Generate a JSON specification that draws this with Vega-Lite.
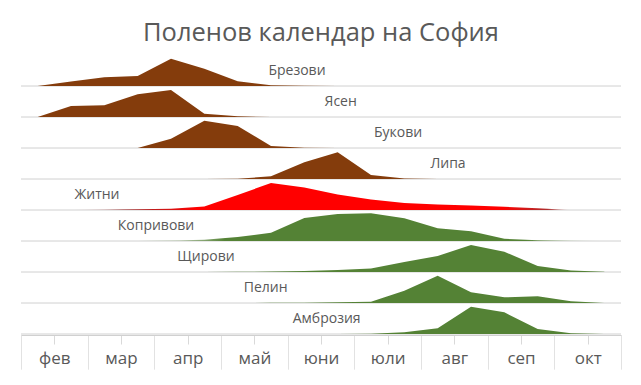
{
  "$schema": "https://vega.github.io/schema/vega-lite/v6.json",
  "background": "white",
  "padding": {"left": 20, "right": 20, "top": 20, "bottom": 0},
  "title": {"text": "Поленов календар на София", "font": "Open Sans", "fontSize": 25.5, "fontWeight": "normal", "color": "#595959", "offset": 10, "anchor": "middle"},
  "data": {"values": [
    {"s":"Брезови","t":0.5,"v":0},{"s":"Брезови","t":1.5,"v":4.5},{"s":"Брезови","t":2.5,"v":8.7},{"s":"Брезови","t":3.5,"v":10},{"s":"Брезови","t":4.5,"v":27.3},{"s":"Брезови","t":5.5,"v":17.3},{"s":"Брезови","t":6.5,"v":4.7},{"s":"Брезови","t":7.5,"v":0.7},{"s":"Брезови","t":8.5,"v":0.2},{"s":"Брезови","t":9.5,"v":0},{"s":"Брезови","t":10.5,"v":0},{"s":"Брезови","t":11.5,"v":0},{"s":"Брезови","t":12.5,"v":0},{"s":"Брезови","t":13.5,"v":0},{"s":"Брезови","t":14.5,"v":0},{"s":"Брезови","t":15.5,"v":0},{"s":"Брезови","t":16.5,"v":0},{"s":"Брезови","t":17.5,"v":0},
    {"s":"Ясен","t":0.5,"v":0},{"s":"Ясен","t":1.5,"v":11},{"s":"Ясен","t":2.5,"v":11.7},{"s":"Ясен","t":3.5,"v":22.7},{"s":"Ясен","t":4.5,"v":27},{"s":"Ясен","t":5.5,"v":3.3},{"s":"Ясен","t":6.5,"v":0.7},{"s":"Ясен","t":7.5,"v":0},{"s":"Ясен","t":8.5,"v":0},{"s":"Ясен","t":9.5,"v":0},{"s":"Ясен","t":10.5,"v":0},{"s":"Ясен","t":11.5,"v":0},{"s":"Ясен","t":12.5,"v":0},{"s":"Ясен","t":13.5,"v":0},{"s":"Ясен","t":14.5,"v":0},{"s":"Ясен","t":15.5,"v":0},{"s":"Ясен","t":16.5,"v":0},{"s":"Ясен","t":17.5,"v":0},
    {"s":"Букови","t":0.5,"v":0},{"s":"Букови","t":1.5,"v":0},{"s":"Букови","t":2.5,"v":0},{"s":"Букови","t":3.5,"v":0},{"s":"Букови","t":4.5,"v":9.3},{"s":"Букови","t":5.5,"v":27.3},{"s":"Букови","t":6.5,"v":22},{"s":"Букови","t":7.5,"v":2},{"s":"Букови","t":8.5,"v":0.3},{"s":"Букови","t":9.5,"v":0},{"s":"Букови","t":10.5,"v":0},{"s":"Букови","t":11.5,"v":0},{"s":"Букови","t":12.5,"v":0},{"s":"Букови","t":13.5,"v":0},{"s":"Букови","t":14.5,"v":0},{"s":"Букови","t":15.5,"v":0},{"s":"Букови","t":16.5,"v":0},{"s":"Букови","t":17.5,"v":0},
    {"s":"Липа","t":0.5,"v":0},{"s":"Липа","t":1.5,"v":0},{"s":"Липа","t":2.5,"v":0},{"s":"Липа","t":3.5,"v":0},{"s":"Липа","t":4.5,"v":0},{"s":"Липа","t":5.5,"v":0},{"s":"Липа","t":6.5,"v":0.3},{"s":"Липа","t":7.5,"v":2.7},{"s":"Липа","t":8.5,"v":16.7},{"s":"Липа","t":9.5,"v":26.7},{"s":"Липа","t":10.5,"v":4},{"s":"Липа","t":11.5,"v":0.5},{"s":"Липа","t":12.5,"v":0.1},{"s":"Липа","t":13.5,"v":0},{"s":"Липа","t":14.5,"v":0},{"s":"Липа","t":15.5,"v":0},{"s":"Липа","t":16.5,"v":0},{"s":"Липа","t":17.5,"v":0},
    {"s":"Житни","t":0.5,"v":0},{"s":"Житни","t":1.5,"v":0},{"s":"Житни","t":2.5,"v":0.3},{"s":"Житни","t":3.5,"v":0.8},{"s":"Житни","t":4.5,"v":1.3},{"s":"Житни","t":5.5,"v":3.5},{"s":"Житни","t":6.5,"v":15},{"s":"Житни","t":7.5,"v":27},{"s":"Житни","t":8.5,"v":22.5},{"s":"Житни","t":9.5,"v":15.5},{"s":"Житни","t":10.5,"v":10.5},{"s":"Житни","t":11.5,"v":7},{"s":"Житни","t":12.5,"v":5.5},{"s":"Житни","t":13.5,"v":4.5},{"s":"Житни","t":14.5,"v":3.3},{"s":"Житни","t":15.5,"v":1.7},{"s":"Житни","t":16.5,"v":0},{"s":"Житни","t":17.5,"v":0},
    {"s":"Копривови","t":0.5,"v":0},{"s":"Копривови","t":1.5,"v":0},{"s":"Копривови","t":2.5,"v":0},{"s":"Копривови","t":3.5,"v":0},{"s":"Копривови","t":4.5,"v":0.5},{"s":"Копривови","t":5.5,"v":1.3},{"s":"Копривови","t":6.5,"v":4},{"s":"Копривови","t":7.5,"v":8.3},{"s":"Копривови","t":8.5,"v":23},{"s":"Копривови","t":9.5,"v":27},{"s":"Копривови","t":10.5,"v":27.7},{"s":"Копривови","t":11.5,"v":22.7},{"s":"Копривови","t":12.5,"v":12.7},{"s":"Копривови","t":13.5,"v":9.7},{"s":"Копривови","t":14.5,"v":2.3},{"s":"Копривови","t":15.5,"v":0.7},{"s":"Копривови","t":16.5,"v":0.3},{"s":"Копривови","t":17.5,"v":0.1},
    {"s":"Щирови","t":0.5,"v":0},{"s":"Щирови","t":1.5,"v":0},{"s":"Щирови","t":2.5,"v":0},{"s":"Щирови","t":3.5,"v":0},{"s":"Щирови","t":4.5,"v":0},{"s":"Щирови","t":5.5,"v":0},{"s":"Щирови","t":6.5,"v":0.2},{"s":"Щирови","t":7.5,"v":0.5},{"s":"Щирови","t":8.5,"v":1},{"s":"Щирови","t":9.5,"v":2},{"s":"Щирови","t":10.5,"v":3.5},{"s":"Щирови","t":11.5,"v":10},{"s":"Щирови","t":12.5,"v":16},{"s":"Щирови","t":13.5,"v":27},{"s":"Щирови","t":14.5,"v":20.3},{"s":"Щирови","t":15.5,"v":6},{"s":"Щирови","t":16.5,"v":1.5},{"s":"Щирови","t":17.5,"v":0.3},
    {"s":"Пелин","t":0.5,"v":0},{"s":"Пелин","t":1.5,"v":0},{"s":"Пелин","t":2.5,"v":0},{"s":"Пелин","t":3.5,"v":0},{"s":"Пелин","t":4.5,"v":0},{"s":"Пелин","t":5.5,"v":0},{"s":"Пелин","t":6.5,"v":0},{"s":"Пелин","t":7.5,"v":0.2},{"s":"Пелин","t":8.5,"v":0.3},{"s":"Пелин","t":9.5,"v":0.7},{"s":"Пелин","t":10.5,"v":1.3},{"s":"Пелин","t":11.5,"v":12.3},{"s":"Пелин","t":12.5,"v":27.3},{"s":"Пелин","t":13.5,"v":10.7},{"s":"Пелин","t":14.5,"v":5.7},{"s":"Пелин","t":15.5,"v":6.7},{"s":"Пелин","t":16.5,"v":1.7},{"s":"Пелин","t":17.5,"v":0},
    {"s":"Амброзия","t":0.5,"v":0},{"s":"Амброзия","t":1.5,"v":0},{"s":"Амброзия","t":2.5,"v":0},{"s":"Амброзия","t":3.5,"v":0},{"s":"Амброзия","t":4.5,"v":0},{"s":"Амброзия","t":5.5,"v":0},{"s":"Амброзия","t":6.5,"v":0},{"s":"Амброзия","t":7.5,"v":0},{"s":"Амброзия","t":8.5,"v":0},{"s":"Амброзия","t":9.5,"v":0},{"s":"Амброзия","t":10.5,"v":0.3},{"s":"Амброзия","t":11.5,"v":1.7},{"s":"Амброзия","t":12.5,"v":5.7},{"s":"Амброзия","t":13.5,"v":27.3},{"s":"Амброзия","t":14.5,"v":21.7},{"s":"Амброзия","t":15.5,"v":5},{"s":"Амброзия","t":16.5,"v":0.7},{"s":"Амброзия","t":17.5,"v":0},
    {"s":"Брезови","label":"Брезови","t":8.28},
    {"s":"Ясен","label":"Ясен","t":9.59},
    {"s":"Букови","label":"Букови","t":11.31},
    {"s":"Липа","label":"Липа","t":12.81},
    {"s":"Житни","label":"Житни","t":2.28},
    {"s":"Копривови","label":"Копривови","t":4.05},
    {"s":"Щирови","label":"Щирови","t":5.55},
    {"s":"Пелин","label":"Пелин","t":7.34},
    {"s":"Амброзия","label":"Амброзия","t":9.17}
  ]},
  "facet": {"row": {"field": "s", "type": "nominal", "sort": ["Брезови","Ясен","Букови","Липа","Житни","Копривови","Щирови","Пелин","Амброзия"], "header": {"labels": false, "title": null, "labelPadding": 0, "titlePadding": 0}, "title": null}},
  "spacing": 0,
  "spec": {
    "width": 600,
    "height": 30,
    "encoding": {
      "x": {"field": "t", "type": "quantitative", "scale": {"domain": [0, 18], "nice": false, "zero": false},
        "axis": {"title": null, "values": [0,1,2,3,4,5,6,7,8,9,10,11,12,13,14,15,16,17,18], "grid": false,
          "domain": true, "domainColor": "#d0d0d0", "tickColor": "#d9d9d9", "tickSize": 34,
          "tickDash": {"condition": {"test": "datum.value % 2 == 1", "value": [9, 60]}, "value": [1, 0]},
          "labelExpr": "datum.value % 2 == 1 ? ['фев','мар','апр','май','юни','юли','авг','сеп','окт'][(datum.value - 1) / 2] : ''",
          "labelFont": "Open Sans", "labelFontSize": 17, "labelColor": "#595959", "labelPadding": -19,
          "labelOverlap": false, "labelBound": false, "labelFlush": false}}
    },
    "layer": [
      {
        "transform": [{"filter": "datum.label != null"}],
        "mark": {"type": "rule", "color": "#d0d0d0", "strokeWidth": 1},
        "encoding": {"x": null, "y": {"datum": 0, "type": "quantitative", "scale": {"domain": [0, 30]}, "axis": null}}
      },
      {
        "transform": [{"filter": "datum.v != null && datum.s != 'Житни' && datum.s != 'Копривови'"}],
        "mark": {"type": "area", "interpolate": "linear"},
        "encoding": {
          "y": {"field": "v", "type": "quantitative", "scale": {"domain": [0, 30]}, "axis": null},
          "color": {"field": "s", "type": "nominal", "legend": null,
            "scale": {"domain": ["Брезови","Ясен","Букови","Липа","Щирови","Пелин","Амброзия"],
              "range": ["#843c0c","#843c0c","#843c0c","#843c0c","#548235","#548235","#548235"]}}
        }
      },
      {
        "transform": [{"filter": "datum.v != null && datum.s == 'Житни'"}],
        "mark": {"type": "area", "interpolate": "linear",
          "color": {"gradient": "linear", "x1": 0, "y1": 0, "x2": 1, "y2": 0,
            "stops": [
              {"offset": 0.05, "color": "rgba(139,0,0,0)"},
              {"offset": 0.15, "color": "rgba(139,0,0,0.8)"},
              {"offset": 0.28, "color": "#ff0000"},
              {"offset": 0.82, "color": "#ff0000"},
              {"offset": 0.9, "color": "rgba(160,0,0,0.8)"},
              {"offset": 0.94, "color": "rgba(160,0,0,0)"}
            ]}},
        "encoding": {
          "y": {"field": "v", "type": "quantitative", "axis": null}
        }
      },
      {
        "transform": [{"filter": "datum.v != null && datum.s == 'Копривови'"}],
        "mark": {"type": "area", "interpolate": "linear",
          "color": {"gradient": "linear", "x1": 0, "y1": 0, "x2": 1, "y2": 0,
            "stops": [
              {"offset": 0.25, "color": "rgba(84,130,53,0.3)"},
              {"offset": 0.33, "color": "#548235"},
              {"offset": 0.86, "color": "#548235"},
              {"offset": 1, "color": "rgba(84,130,53,0)"}
            ]}},
        "encoding": {
          "y": {"field": "v", "type": "quantitative", "axis": null}
        }
      },
      {
        "transform": [{"filter": "datum.label != null"}],
        "mark": {"type": "text", "font": "Open Sans", "fontSize": 14, "color": "#595959", "baseline": "middle", "align": "center"},
        "encoding": {
          "y": {"datum": 15, "type": "quantitative", "axis": null},
          "text": {"field": "label"}
        }
      }
    ]
  },
  "config": {"view": {"stroke": null}}
}
